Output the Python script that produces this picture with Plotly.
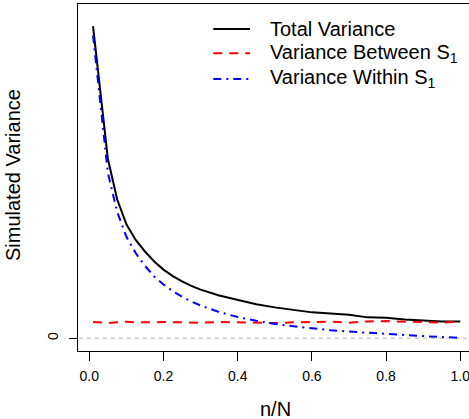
import plotly.graph_objects as go

# n/N sample fraction
frac = [0.01, 0.05, 0.075, 0.10, 0.125, 0.15, 0.175, 0.20, 0.225, 0.25, 0.275, 0.30, 0.35, 0.40,
        0.45, 0.50, 0.55, 0.60, 0.65, 0.70, 0.75, 0.80, 0.85, 0.90, 0.95, 1.00]
total_var = [100.0, 57.5, 44.5, 36.5, 31.5, 27.8, 24.6, 22.0, 19.9, 18.2, 16.8, 15.6, 13.7, 12.2,
             10.9, 9.9, 9.0, 8.3, 7.9, 7.5, 6.7, 6.6, 6.0, 5.6, 5.35, 5.4]
between_var = [5.2, 4.9, 5.1, 5.3, 5.1, 5.0, 5.1, 5.2, 5.1, 5.1, 5.0, 5.0, 5.2, 5.1,
               5.0, 4.9, 5.1, 5.2, 5.3, 5.0, 5.4, 5.5, 5.3, 5.2, 5.0, 5.4]
within_var = [97.0, 53.0, 40.5, 32.5, 27.3, 23.2, 19.8, 17.2, 15.1, 13.3, 11.8, 10.5, 8.4, 6.8,
              5.6, 4.6, 3.85, 3.2, 2.6, 2.15, 1.75, 1.4, 1.05, 0.7, 0.4, 0.15]

x_ticks = [0.0, 0.2, 0.4, 0.6, 0.8, 1.0]
x_tick_labels = ["0.0", "0.2", "0.4", "0.6", "0.8", "1.0"]
y_ticks = [0]
y_tick_labels = ["0"]

legend_names = ["Total Variance", "Variance Between S<sub>1</sub>", "Variance Within S<sub>1</sub>"]
colors = ["black", "#ff0000", "#0000ff"]
dashes = ["solid", "9px,7px", "8px,5px,2px,5px"]

FONT = "Liberation Sans, Arial, sans-serif"

fig = go.Figure()

# zero reference line
fig.add_trace(go.Scatter(x=[-0.05, 1.1], y=[0, 0], mode="lines",
                         line=dict(color="#cfcfcf", width=1.5, dash="4px,4px"),
                         showlegend=False, hoverinfo="skip"))

for vals, c, d in zip([total_var, between_var, within_var], colors, dashes):
    fig.add_trace(go.Scatter(x=frac, y=vals, mode="lines",
                             line=dict(color=c, width=2, dash=d),
                             showlegend=False))

# manual legend
row_y = [0.928, 0.858, 0.784]
for name, c, d, yy in zip(legend_names, colors, dashes, row_y):
    fig.add_shape(type="line", xref="paper", yref="paper", x0=0.346, x1=0.44, y0=yy, y1=yy,
                  line=dict(color=c, width=2, dash=d))
    fig.add_annotation(text=name, xref="paper", yref="paper", x=0.485, y=yy,
                       xanchor="left", yanchor="middle", showarrow=False,
                       font=dict(size=20, color="black", family=FONT))

fig.add_annotation(text="Simulated Variance", xref="paper", yref="paper", x=-0.1663, y=0.507,
                   textangle=-90, xanchor="center", yanchor="middle", showarrow=False,
                   font=dict(size=20, color="black", family=FONT))
fig.add_annotation(text="n/N", xref="paper", yref="paper", x=0.506, y=-0.168,
                   xanchor="center", yanchor="middle", showarrow=False,
                   font=dict(size=20, color="black", family=FONT))

fig.update_xaxes(range=[-0.0305, 1.0235], tickvals=x_ticks, ticktext=x_tick_labels,
                 ticks="outside", ticklen=8.5, tickcolor="black", tickwidth=1,
                 ticklabeloverflow="allow", ticklabelstandoff=4,
                 showline=True, linecolor="black", linewidth=1, mirror=True,
                 showgrid=False, zeroline=False,
                 tickfont=dict(size=14, color="black", family=FONT))
fig.update_yaxes(range=[-4.07, 107.05], tickvals=y_ticks, ticktext=y_tick_labels,
                 ticks="outside", ticklen=8.5, tickcolor="black", tickwidth=1, tickangle=-90,
                 ticklabelstandoff=5,
                 showline=True, linecolor="black", linewidth=1,
                 showgrid=False, zeroline=False,
                 tickfont=dict(size=14, color="black", family=FONT))

fig.update_layout(width=469, height=419,
                  margin=dict(l=78, r=0, t=4, b=68.3),
                  plot_bgcolor="white", paper_bgcolor="white",
                  font=dict(family=FONT, color="black"))

fig.write_html("out.html", config={"displayModeBar": False},
               post_script="document.body.style.margin='0';")
